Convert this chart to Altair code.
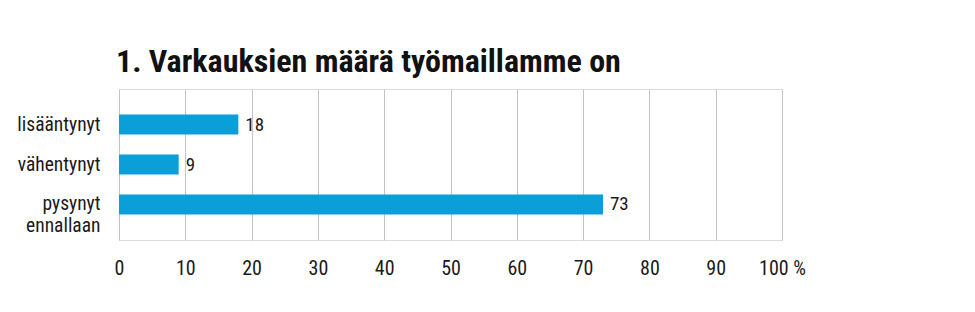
import altair as alt
import pandas as pd

categories = ["lisääntynyt", "vähentynyt", "pysynyt ennallaan"]
values = [18, 9, 73]
tick_values = [0, 10, 20, 30, 40, 50, 60, 70, 80, 90, 100]
title_text = "1. Varkauksien määrä työmaillamme on"

df = pd.DataFrame({"cat": categories, "val": values})
FONT = "Liberation Sans Narrow, Roboto Condensed, Roboto, sans-serif"

y_enc = alt.Y(
    "cat:N",
    sort=categories,
    scale=alt.Scale(paddingInner=0.5, paddingOuter=0.64),
    axis=alt.Axis(
        title=None, domain=False, ticks=False, labelPadding=19,
        labelFontSize=19.5, labelFont=FONT, labelColor="#1a1a1a",
        labelExpr="split(datum.label, ' ')", labelAlign="right",
    ),
)
x_enc = alt.X(
    "val:Q",
    scale=alt.Scale(domain=[0, 100], nice=False),
    axis=alt.Axis(
        values=tick_values, title=None, domain=False, ticks=False, grid=True,
        gridColor="#c4c4c4", gridWidth=1,
        labelExpr="datum.value == 100 ? '100 %' : datum.label",
        labelPadding=18, labelFontSize=20, labelFont=FONT, labelColor="#1a1a1a",
        labelFlush=False,
    ),
)

base = alt.Chart(df).encode(y=y_enc, x=x_enc)
bars = base.mark_bar(color="#0a9fd9")
labels = base.mark_text(align="left", dx=7, baseline="middle", fontSize=19, font=FONT, color="#1a1a1a").encode(text="val:Q")

chart = (bars + labels).properties(
    width=663, height=151,
    autosize=alt.AutoSizeParams(type="none"),
    padding={"left": 119, "top": 89, "right": 193, "bottom": 72},
    title=alt.Title(title_text, anchor="start", frame="group", fontSize=32, font=FONT,
                    fontWeight="bold", offset=-15, dx=-3, baseline="alphabetic", color="#111111"),
).configure_view(fill="#ebebeb", stroke="#cccccc").configure(background="white")

chart.save("out.html", embed_options={"renderer": "svg", "actions": False})
